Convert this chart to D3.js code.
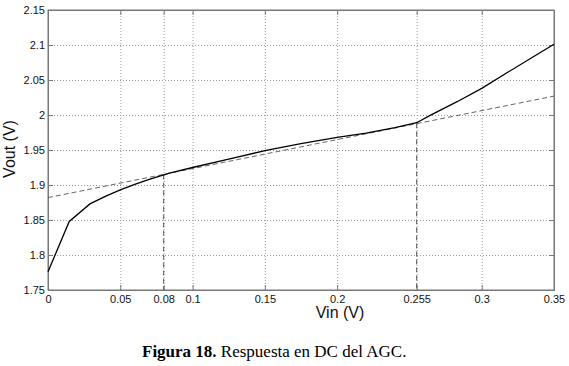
<!DOCTYPE html>
<html>
<head>
<meta charset="UTF-8">
<script src="https://d3js.org/d3.v7.min.js"></script>
<style>
  body { margin: 0; background: #fff; }
  .tick text { font-family: "Liberation Sans", Arial, sans-serif; font-size: 11px; fill: #111; }
  .grid line { stroke: #9a9a9a; stroke-dasharray: 1,2; }
  .grid path { display: none; }
</style>
</head>
<body>
<div id="chart"></div>
<script>
// respuesta DC medida
var vin  = [0, 0.0147, 0.029, 0.04, 0.05, 0.06, 0.07, 0.084, 0.1, 0.125, 0.15, 0.175, 0.2, 0.22, 0.24, 0.255, 0.264, 0.283, 0.3, 0.318, 0.334, 0.35];
var vout = [1.776, 1.848, 1.873, 1.884, 1.893, 1.901, 1.908, 1.917, 1.925, 1.937, 1.949, 1.959, 1.968, 1.974, 1.982, 1.989, 1.999, 2.019, 2.038, 2.061, 2.081, 2.101];
// recta de referencia
var refX = [0, 0.35];
var refY = [1.882, 2.027];
// limites de la zona lineal
var limX = [0.08, 0.255];
var limY = [1.915, 1.988];

var xTicks = [0, 0.05, 0.08, 0.1, 0.15, 0.2, 0.255, 0.3, 0.35];
var yTicks = [1.75, 1.8, 1.85, 1.9, 1.95, 2, 2.05, 2.1, 2.15];

var width = 569, height = 366;
var x0 = 48, x1 = 554, y0 = 10, y1 = 290;

var x = d3.scaleLinear().domain([0, 0.35]).range([x0, x1]);
var y = d3.scaleLinear().domain([1.75, 2.15]).range([y1, y0]);

var svg = d3.select("#chart").append("svg")
  .attr("width", width)
  .attr("height", height);

// grilla
svg.append("g").attr("class", "grid")
  .attr("transform", "translate(0," + y1 + ")")
  .call(d3.axisBottom(x).tickValues(xTicks).tickSize(-(y1 - y0)).tickFormat(""));
svg.append("g").attr("class", "grid")
  .attr("transform", "translate(" + x0 + ",0)")
  .call(d3.axisLeft(y).tickValues(yTicks).tickSize(-(x1 - x0)).tickFormat(""));

// marco
svg.append("rect")
  .attr("x", x0).attr("y", y0)
  .attr("width", x1 - x0).attr("height", y1 - y0)
  .attr("fill", "none").attr("stroke", "#777").attr("stroke-width", 1);

var fmt = function(d) { return String(d); };

var xAxis = svg.append("g")
  .attr("transform", "translate(0," + y1 + ")")
  .call(d3.axisBottom(x).tickValues(xTicks).tickSize(-5).tickPadding(5).tickFormat(fmt));
var xTop = svg.append("g")
  .attr("transform", "translate(0," + y0 + ")")
  .call(d3.axisTop(x).tickValues(xTicks).tickSize(-5).tickFormat(""));
var yAxis = svg.append("g")
  .attr("transform", "translate(" + x0 + ",0)")
  .call(d3.axisLeft(y).tickValues(yTicks).tickSize(-5).tickPadding(3).tickFormat(fmt));
var yRight = svg.append("g")
  .attr("transform", "translate(" + x1 + ",0)")
  .call(d3.axisRight(y).tickValues(yTicks).tickSize(-5).tickFormat(""));

[xAxis, xTop, yAxis, yRight].forEach(function(g) {
  g.select(".domain").attr("stroke", "#777");
  g.selectAll(".tick line").attr("stroke", "#777");
});

// recta punteada
var refData = refX.map(function(d, i) { return [d, refY[i]]; });
svg.append("path")
  .datum(refData)
  .attr("fill", "none")
  .attr("stroke", "#666")
  .attr("stroke-width", 1)
  .attr("stroke-dasharray", "5,3")
  .attr("d", d3.line().x(function(d) { return x(d[0]); }).y(function(d) { return y(d[1]); }));

// lineas verticales
svg.selectAll(".lim")
  .data(limX)
  .enter().append("line")
  .attr("class", "lim")
  .attr("x1", function(d) { return x(d); })
  .attr("x2", function(d) { return x(d); })
  .attr("y1", function(d, i) { return y(limY[i]); })
  .attr("y2", y(1.75))
  .attr("stroke", "#555")
  .attr("stroke-width", 1)
  .attr("stroke-dasharray", "5,3");

// curva medida
var data = vin.map(function(d, i) { return [d, vout[i]]; });
svg.append("path")
  .datum(data)
  .attr("fill", "none")
  .attr("stroke", "#000")
  .attr("stroke-width", 1.3)
  .attr("d", d3.line().x(function(d) { return x(d[0]); }).y(function(d) { return y(d[1]); }));

// etiquetas
svg.append("text")
  .attr("x", 340).attr("y", 318)
  .attr("text-anchor", "middle")
  .attr("font-family", "Liberation Sans, Arial, sans-serif")
  .attr("font-size", "16px")
  .attr("fill", "#111")
  .text("Vin (V)");

svg.append("text")
  .attr("transform", "translate(15,149) rotate(-90)")
  .attr("text-anchor", "middle")
  .attr("font-family", "Liberation Sans, Arial, sans-serif")
  .attr("font-size", "16px")
  .attr("fill", "#111")
  .text("Vout (V)");

var cap = svg.append("text")
  .attr("x", 142).attr("y", 357)
  .attr("font-family", "Liberation Serif, Times New Roman, serif")
  .attr("font-size", "17px")
  .attr("fill", "#000");
cap.append("tspan").attr("font-weight", "bold").text("Figura 18.");
cap.append("tspan").text(" Respuesta en DC del AGC.");
</script>
</body>
</html>
